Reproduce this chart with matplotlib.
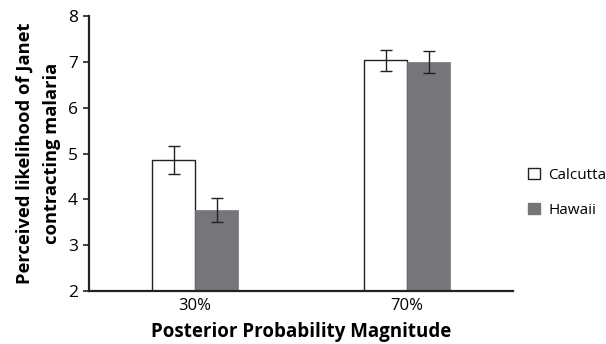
import matplotlib
matplotlib.use("Agg")
import matplotlib.pyplot as plt
import numpy as np
from matplotlib.patches import Patch

categories = ["30%", "70%"]
series_names = ["Calcutta", "Hawaii"]
calcutta = [4.86, 7.04]
calcutta_err = [0.30, 0.23]
hawaii = [3.77, 7.00]
hawaii_err = [0.27, 0.23]

plt.rcParams['font.family'] = ['Open Sans', 'DejaVu Sans']

fig = plt.figure(figsize=(6.06, 3.44), dpi=100)
ax = fig.add_axes([0.147, 0.154, 0.700, 0.799])

x = np.arange(len(categories))
w = 0.203
ek = dict(ecolor='#222222', elinewidth=1.0, capsize=4, capthick=1.0)
ax.bar(x - w/2, calcutta, w, yerr=calcutta_err, color='white',
       edgecolor='#222222', linewidth=1.0, error_kw=ek, label=series_names[0])
ax.bar(x + w/2, hawaii, w, yerr=hawaii_err, color='#76767a',
       edgecolor='#76767a', linewidth=0.5, error_kw=ek, label=series_names[1])

ax.set_ylim(2, 8)
ax.set_xlim(-0.5, 1.5)
ax.set_yticks(range(2, 9))
ax.set_xticks(x)
ax.set_xticklabels(categories)
ax.tick_params(axis='y', length=4, width=1.2, color='#222222', labelsize=12.5, pad=4)
ax.tick_params(axis='x', length=0, labelsize=12, pad=5)
for s in ['top', 'right']:
    ax.spines[s].set_visible(False)
for s in ['left', 'bottom']:
    ax.spines[s].set_linewidth(1.6)
    ax.spines[s].set_color('#222222')

ax.set_ylabel("Perceived likelihood of Janet\ncontracting malaria", fontsize=13.2,
              fontweight='bold', linespacing=1.65, labelpad=5)
ax.set_xlabel("Posterior Probability Magnitude", fontsize=13.5, fontweight='bold', labelpad=6)

handles = [Patch(facecolor='white', edgecolor='#222222', linewidth=1.0),
           Patch(facecolor='#76767a', edgecolor='#76767a')]
fig.legend(handles, series_names, loc='center left', bbox_to_anchor=(0.872, 0.44),
           frameon=False, fontsize=11, handlelength=0.75, handleheight=0.75,
           handletextpad=0.55, labelspacing=1.3, borderpad=0, borderaxespad=0)

fig.savefig("out.png", dpi=100)
